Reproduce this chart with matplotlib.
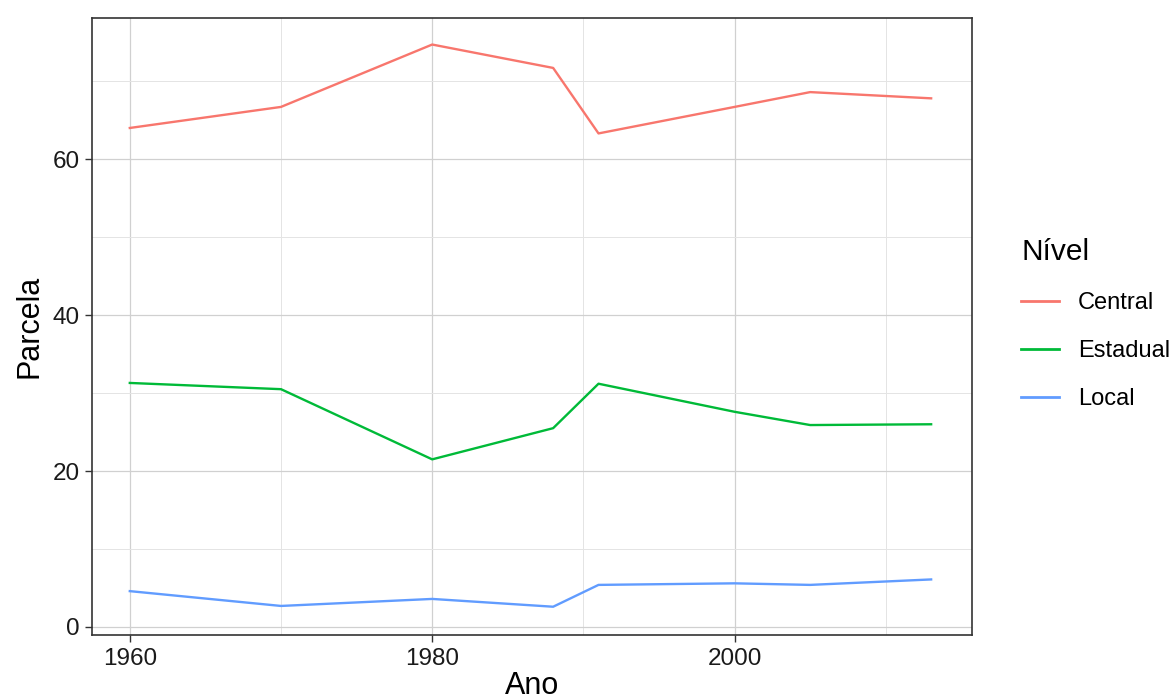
import numpy as np
import matplotlib.pyplot as plt
from matplotlib.ticker import MultipleLocator

plt.rcParams['font.family'] = ['Liberation Sans', 'DejaVu Sans']

anos = [1960, 1970, 1980, 1988, 1991, 2000, 2005, 2013]
central = [64.0, 66.7, 74.7, 71.7, 63.3, 66.7, 68.6, 67.8]
estadual = [31.3, 30.5, 21.5, 25.5, 31.2, 27.6, 25.9, 26.0]
local = [4.6, 2.7, 3.6, 2.6, 5.4, 5.6, 5.4, 6.1]
niveis = ['Central', 'Estadual', 'Local']
cores = ['#F8766D', '#00BA38', '#619CFF']


def main():
    fig = plt.figure(figsize=(11.75, 6.96), dpi=100)
    ax = fig.add_axes([0.0783, 0.0876, 0.7489, 0.8865])
    for serie, nome, cor in zip([central, estadual, local], niveis, cores):
        ax.plot(anos, serie, color=cor, lw=1.7, label=nome)
    ax.set_xlim(1957.5, 2015.7)
    ax.set_ylim(-1.03, 78.1)
    ax.xaxis.set_major_locator(MultipleLocator(20))
    ax.xaxis.set_minor_locator(MultipleLocator(10))
    ax.yaxis.set_major_locator(MultipleLocator(20))
    ax.yaxis.set_minor_locator(MultipleLocator(10))
    ax.grid(which='major', color='#d0d0d0', lw=0.9)
    ax.grid(which='minor', color='#e4e4e4', lw=0.7)
    ax.set_axisbelow(True)
    for s in ax.spines.values():
        s.set_color('#333333')
        s.set_linewidth(1.2)
    ax.tick_params(which='major', length=5, width=1, color='#333333',
                   labelsize=17.5, labelcolor='#1a1a1a', pad=4)
    ax.tick_params(which='minor', length=0)
    ax.set_xlabel('Ano', fontsize=22, labelpad=1)
    ax.set_ylabel('Parcela', fontsize=22, labelpad=6)
    leg = ax.legend(title='Nível', loc='upper left', bbox_to_anchor=(0.851, 0.688),
                    bbox_transform=fig.transFigure, frameon=False, fontsize=17,
                    title_fontsize=21.5, handlelength=1.6, handletextpad=0.8,
                    labelspacing=1.1, alignment='left')
    for h in leg.get_lines():
        h.set_linewidth(2)
    fig.savefig('out.png', dpi=100)


if __name__ == "__main__":
    main()
